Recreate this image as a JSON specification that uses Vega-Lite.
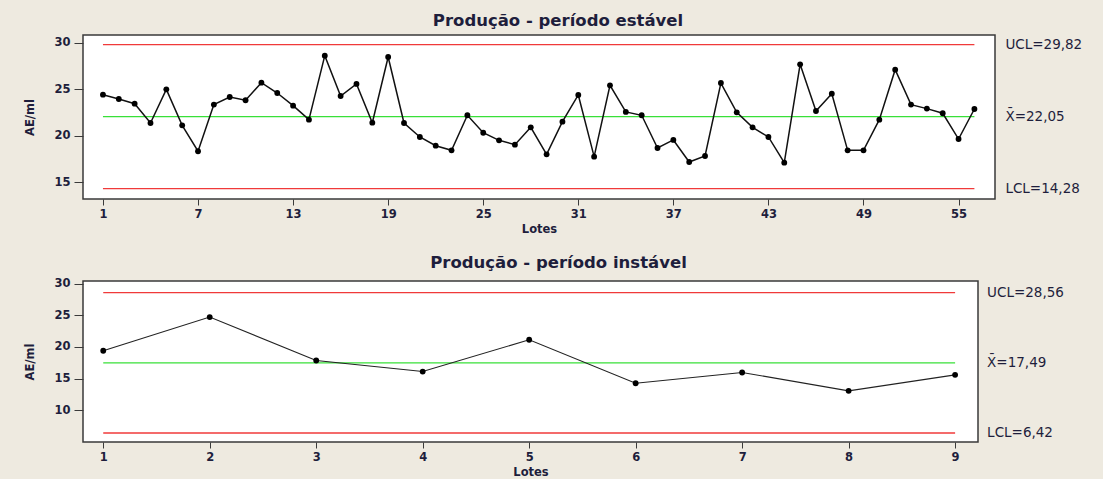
{
  "$schema": "https://vega.github.io/schema/vega-lite/v6.json",
  "background": "#eeeae0",
  "padding": {"left": 24, "top": 11, "right": 22, "bottom": 0},
  "spacing": 18,
  "datasets": {
    "top": [
      {"lote": 1, "value": 24.42}, {"lote": 2, "value": 23.96}, {"lote": 3, "value": 23.45}, {"lote": 4, "value": 21.37},
      {"lote": 5, "value": 25.0}, {"lote": 6, "value": 21.12}, {"lote": 7, "value": 18.32}, {"lote": 8, "value": 23.35},
      {"lote": 9, "value": 24.17}, {"lote": 10, "value": 23.82}, {"lote": 11, "value": 25.72}, {"lote": 12, "value": 24.6},
      {"lote": 13, "value": 23.24}, {"lote": 14, "value": 21.73}, {"lote": 15, "value": 28.63}, {"lote": 16, "value": 24.28},
      {"lote": 17, "value": 25.58}, {"lote": 18, "value": 21.4}, {"lote": 19, "value": 28.49}, {"lote": 20, "value": 21.37},
      {"lote": 21, "value": 19.86}, {"lote": 22, "value": 18.92}, {"lote": 23, "value": 18.42}, {"lote": 24, "value": 22.2},
      {"lote": 25, "value": 20.32}, {"lote": 26, "value": 19.5}, {"lote": 27, "value": 19.03}, {"lote": 28, "value": 20.9},
      {"lote": 29, "value": 17.99}, {"lote": 30, "value": 21.51}, {"lote": 31, "value": 24.39}, {"lote": 32, "value": 17.74},
      {"lote": 33, "value": 25.43}, {"lote": 34, "value": 22.56}, {"lote": 35, "value": 22.2}, {"lote": 36, "value": 18.67},
      {"lote": 37, "value": 19.54}, {"lote": 38, "value": 17.16}, {"lote": 39, "value": 17.81}, {"lote": 40, "value": 25.68},
      {"lote": 41, "value": 22.52}, {"lote": 42, "value": 20.9}, {"lote": 43, "value": 19.86}, {"lote": 44, "value": 17.09},
      {"lote": 45, "value": 27.7}, {"lote": 46, "value": 22.66}, {"lote": 47, "value": 24.53}, {"lote": 48, "value": 18.42},
      {"lote": 49, "value": 18.42}, {"lote": 50, "value": 21.73}, {"lote": 51, "value": 27.12}, {"lote": 52, "value": 23.35},
      {"lote": 53, "value": 22.92}, {"lote": 54, "value": 22.42}, {"lote": 55, "value": 19.64}, {"lote": 56, "value": 22.88}
    ],
    "topLimits": [
      {"line": "UCL", "value": 29.82, "label": "UCL=29,82"},
      {"line": "X", "value": 22.05, "label": "X̄=22,05"},
      {"line": "LCL", "value": 14.28, "label": "LCL=14,28"}
    ],
    "bottom": [
      {"lote": 1, "value": 19.4}, {"lote": 2, "value": 24.72}, {"lote": 3, "value": 17.86}, {"lote": 4, "value": 16.12},
      {"lote": 5, "value": 21.14}, {"lote": 6, "value": 14.27}, {"lote": 7, "value": 15.97}, {"lote": 8, "value": 13.07},
      {"lote": 9, "value": 15.6}
    ],
    "bottomLimits": [
      {"line": "UCL", "value": 28.56, "label": "UCL=28,56"},
      {"line": "X", "value": 17.49, "label": "X̄=17,49"},
      {"line": "LCL", "value": 6.42, "label": "LCL=6,42"}
    ]
  },
  "config": {
    "font": "DejaVu Sans",
    "view": {"stroke": "#3a3a3a", "strokeWidth": 1.5, "fill": "#ffffff"},
    "axis": {
      "domain": false,
      "grid": false,
      "tickColor": "#3a3a3a",
      "labelColor": "#1e1e3c",
      "titleColor": "#1e1e3c",
      "labelFont": "DejaVu Sans",
      "titleFont": "DejaVu Sans",
      "labelFontSize": 11.5,
      "labelFontWeight": "bold",
      "titleFontSize": 11.5,
      "titleFontWeight": "bold"
    },
    "title": {"font": "DejaVu Sans", "fontSize": 16.5, "fontWeight": "bold", "color": "#1e1e3c", "offset": 6}
  },
  "vconcat": [
    {
      "width": 912,
      "height": 164,
      "title": {"text": "Produção - período estável", "dx": 19},
      "layer": [
        {
          "data": {"name": "topLimits"},
          "mark": {"type": "rule", "strokeWidth": 1.3},
          "encoding": {
            "x": {"datum": 1, "type": "quantitative", "scale": {"domain": [-0.26, 57.3], "nice": false, "zero": false}, "axis": {"values": [1, 7, 13, 19, 25, 31, 37, 43, 49, 55], "format": "d", "title": "Lotes", "tickSize": 6, "labelPadding": 3, "titlePadding": 4}},
            "x2": {"datum": 56},
            "y": {"field": "value", "type": "quantitative", "scale": {"domain": [13.17, 30.86], "nice": false, "zero": false}, "axis": {"values": [15, 20, 25, 30], "title": "AE/ml", "tickSize": 9, "labelPadding": 4, "titlePadding": 18}},
            "color": {"field": "line", "type": "nominal", "scale": {"domain": ["UCL", "X", "LCL"], "range": ["#f03a3a", "#38e038", "#f03a3a"]}, "legend": null}
          }
        },
        {
          "data": {"name": "topLimits"},
          "mark": {"type": "text", "align": "left", "baseline": "middle", "dx": 31, "fontSize": 13.5, "color": "#1e1e3c"},
          "encoding": {
            "x": {"datum": 56, "type": "quantitative"},
            "y": {"field": "value", "type": "quantitative"},
            "text": {"field": "label"}
          }
        },
        {
          "data": {"name": "top"},
          "mark": {"type": "line", "color": "#111111", "strokeWidth": 1.5},
          "encoding": {
            "x": {"field": "lote", "type": "quantitative"},
            "y": {"field": "value", "type": "quantitative"}
          }
        },
        {
          "data": {"name": "top"},
          "mark": {"type": "point", "filled": true, "color": "#000000", "size": 34, "opacity": 1},
          "encoding": {
            "x": {"field": "lote", "type": "quantitative"},
            "y": {"field": "value", "type": "quantitative"}
          }
        }
      ]
    },
    {
      "width": 895,
      "height": 161,
      "title": {"text": "Produção - período instável", "dx": 28},
      "layer": [
        {
          "data": {"name": "bottomLimits"},
          "mark": {"type": "rule", "strokeWidth": 1.3},
          "encoding": {
            "x": {"datum": 1, "type": "quantitative", "scale": {"domain": [0.81, 9.215], "nice": false, "zero": false}, "axis": {"values": [1, 2, 3, 4, 5, 6, 7, 8, 9], "format": "d", "title": "Lotes", "tickSize": 6, "labelPadding": 3, "titlePadding": 4}},
            "x2": {"datum": 9},
            "y": {"field": "value", "type": "quantitative", "scale": {"domain": [5.0, 30.41], "nice": false, "zero": false}, "axis": {"values": [10, 15, 20, 25, 30], "title": "AE/ml", "tickSize": 9, "labelPadding": 4, "titlePadding": 18}},
            "color": {"field": "line", "type": "nominal", "scale": {"domain": ["UCL", "X", "LCL"], "range": ["#f03a3a", "#38e038", "#f03a3a"]}, "legend": null}
          }
        },
        {
          "data": {"name": "bottomLimits"},
          "mark": {"type": "text", "align": "left", "baseline": "middle", "dx": 32, "fontSize": 13.5, "color": "#1e1e3c"},
          "encoding": {
            "x": {"datum": 9, "type": "quantitative"},
            "y": {"field": "value", "type": "quantitative"},
            "text": {"field": "label"}
          }
        },
        {
          "data": {"name": "bottom"},
          "mark": {"type": "line", "color": "#222222", "strokeWidth": 1.1},
          "encoding": {
            "x": {"field": "lote", "type": "quantitative"},
            "y": {"field": "value", "type": "quantitative"}
          }
        },
        {
          "data": {"name": "bottom"},
          "mark": {"type": "point", "filled": true, "color": "#000000", "size": 34, "opacity": 1},
          "encoding": {
            "x": {"field": "lote", "type": "quantitative"},
            "y": {"field": "value", "type": "quantitative"}
          }
        }
      ]
    }
  ],
  "resolve": {"scale": {"color": "independent"}}
}
